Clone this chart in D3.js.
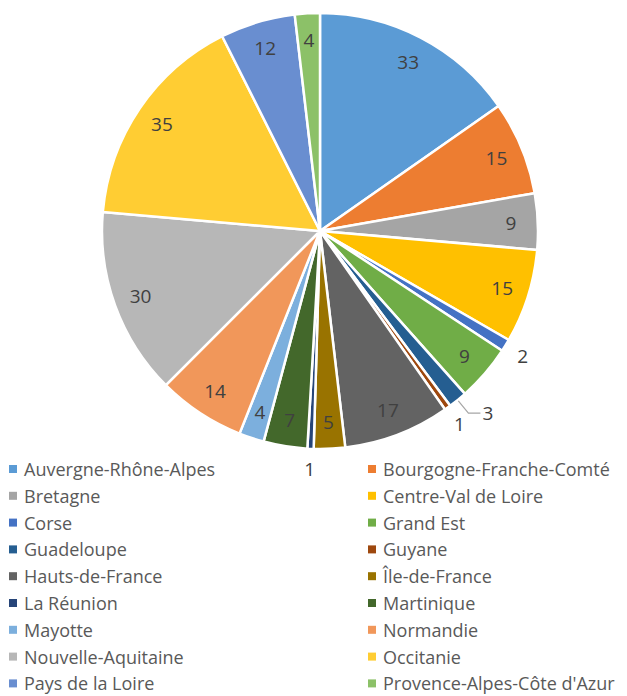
<!DOCTYPE html>
<html><head><meta charset="utf-8">
<script src="https://cdn.jsdelivr.net/npm/d3@7"></script>
<style>html,body{margin:0;padding:0;background:#fff;}</style>
</head><body>
<svg id="chart" width="627" height="696"></svg>
<script>
const categories = ["Auvergne-Rhône-Alpes","Bourgogne-Franche-Comté","Bretagne","Centre-Val de Loire","Corse","Grand Est","Guadeloupe","Guyane","Hauts-de-France","Île-de-France","La Réunion","Martinique","Mayotte","Normandie","Nouvelle-Aquitaine","Occitanie","Pays de la Loire","Provence-Alpes-Côte d'Azur"];
const values = [33,15,9,15,2,9,3,1,17,5,1,7,4,14,30,35,12,4];
const colors = ["#5B9BD5","#ED7D31","#A5A5A5","#FFC000","#4472C4","#70AD47","#255E91","#9E480E","#636363","#997300","#264478","#43682B","#7CAFDD","#F1975A","#B7B7B7","#FFCD33","#698ED0","#8CC168"];

const svg = d3.select("#chart");
const cx = 320, cy = 231, R = 218;
const font = "'Open Sans', 'Noto Sans', sans-serif";
const data = categories.map((c,i)=>({name:c, value:values[i], color:colors[i]}));
const pie = d3.pie().sort(null).value(d=>d.value);
const arcs = pie(data);
const arc = d3.arc().innerRadius(0).outerRadius(R);
const inLabel = d3.arc().innerRadius(191).outerRadius(191);
const outLabel = d3.arc().innerRadius(238).outerRadius(238);
const edge = d3.arc().innerRadius(R+1).outerRadius(R+1);
const lead = d3.arc().innerRadius(235).outerRadius(235);

const g = svg.append("g").attr("transform",`translate(${cx},${cy})`);
g.selectAll("path.slice").data(arcs).join("path")
  .attr("class","slice").attr("d",arc).attr("fill",d=>d.data.color)
  .attr("stroke","#fff").attr("stroke-width",2.5).attr("stroke-linejoin","round");

arcs.forEach(d=>{
  const v = d.data.value;
  let x, y, anchor = "middle";
  if (v > 3) {
    [x,y] = inLabel.centroid(d);
  } else if (v === 3) {
    const p0 = edge.centroid(d), p1 = lead.centroid(d);
    const p2 = [p1[0]+12, p1[1]];
    g.append("polyline").attr("points",[p0,p1,p2].map(p=>p.join(",")).join(" "))
      .attr("fill","none").attr("stroke","#A6A6A6").attr("stroke-width",1.2);
    x = p2[0]+2; y = p2[1]; anchor = "start";
  } else {
    [x,y] = outLabel.centroid(d);
  }
  g.append("text").attr("x",x).attr("y",y).attr("text-anchor",anchor)
    .attr("dominant-baseline","central")
    .style("font-family",font).style("font-size","19px").attr("fill","#404040")
    .text(v);
});

// legend
const leg = svg.append("g");
const colX = [9, 368];
const rowY0 = 469, rowH = 26.8;
// choose font size so the longest entry matches the reference width
const probe = leg.append("text").style("font-family",font).style("font-size","20px").text("Provence-Alpes-Côte d'Azur");
const w20 = probe.node().getComputedTextLength();
probe.remove();
const fs = Math.min(18, 20 * 240 / w20);
data.forEach((d,i)=>{
  const col = i % 2, row = Math.floor(i/2);
  const x = colX[col], y = rowY0 + row*rowH;
  leg.append("rect").attr("x",x).attr("y",y-4).attr("width",8).attr("height",8).attr("fill",d.color);
  leg.append("text").attr("x",x+15).attr("y",y).attr("dominant-baseline","central")
    .style("font-family",font).style("font-size",fs+"px").attr("fill","#595959").text(d.name);
});
</script>
</body></html>
